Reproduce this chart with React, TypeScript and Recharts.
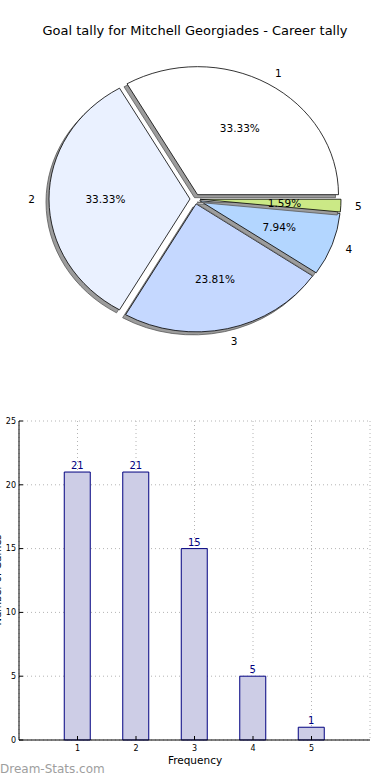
import { Bar, BarChart, CartesianGrid, Cell, LabelList, Pie, PieChart, XAxis, YAxis } from 'recharts';

const categories = ['1', '2', '3', '4', '5'];
const tallies = [21, 21, 15, 5, 1];
const sliceColors = ['#ffffff', '#eaf1ff', '#c5d8ff', '#b3d6ff', '#cbe986'];
const xTicks = [1, 2, 3, 4, 5];
const yTicks = [0, 5, 10, 15, 20, 25];

const pieData = categories.map((name, i) => ({ name, value: tallies[i] }));
const barData = categories.map((name, i) => ({ pos: i + 1, name, value: tallies[i] }));

const RAD = Math.PI / 180;
const ASPECT = 128 / 141; // pie is squashed vertically in the original
const EXPLODE = 5;
const FONT = '"DejaVu Sans", sans-serif';

function exploded(cx: number, cy: number, mid: number) {
  return [cx + EXPLODE * Math.cos(mid * RAD), cy - EXPLODE * Math.sin(mid * RAD)];
}

function wedgePath(ox: number, oy: number, rx: number, ry: number, a0: number, a1: number) {
  const x0 = ox + rx * Math.cos(a0 * RAD);
  const y0 = oy - ry * Math.sin(a0 * RAD);
  const x1 = ox + rx * Math.cos(a1 * RAD);
  const y1 = oy - ry * Math.sin(a1 * RAD);
  const large = Math.abs(a1 - a0) > 180 ? 1 : 0;
  return `M${ox},${oy} L${x0},${y0} A${rx},${ry} 0 ${large} 0 ${x1},${y1} Z`;
}

function Wedge(props: any) {
  const { cx, cy, startAngle, endAngle, midAngle, outerRadius, fill } = props;
  const [ox, oy] = exploded(cx, cy, midAngle);
  const d = wedgePath(ox, oy, outerRadius, outerRadius * ASPECT, startAngle, endAngle);
  return (
    <g>
      <path d={d} transform="translate(-3,3)" fill="#9c9c9c" stroke="#5a5a5a" strokeWidth={0.8} />
      <path d={d} fill={fill} stroke="#000" strokeWidth={0.8} />
    </g>
  );
}

function renderPieLabel(props: any) {
  const { cx, cy, midAngle, outerRadius, percent, name } = props;
  const [ox, oy] = exploded(cx, cy, midAngle);
  const c = Math.cos(midAngle * RAD);
  const s = Math.sin(midAngle * RAD);
  const rx = outerRadius;
  const ry = outerRadius * ASPECT;
  return (
    <g fontFamily={FONT} fontSize={10.5} fill="#000">
      <text
        x={ox + 1.1 * rx * c}
        y={oy - 1.1 * ry * s}
        textAnchor={c > 0 ? 'start' : 'end'}
        dominantBaseline="central"
      >
        {name}
      </text>
      <text x={ox + 0.6 * rx * c} y={oy - 0.6 * ry * s} textAnchor="middle" dominantBaseline="central">
        {(percent * 100).toFixed(2)}%
      </text>
    </g>
  );
}

export default function App() {
  return (
    <div
      style={{
        position: 'absolute',
        left: 0,
        top: 0,
        width: 390,
        height: 780,
        background: '#fff',
        fontFamily: FONT,
        overflow: 'hidden',
      }}
    >
      <div
        style={{
          position: 'absolute',
          top: 23,
          left: 0,
          width: 390,
          textAlign: 'center',
          fontSize: 13,
          color: '#000',
        }}
      >
        Goal tally for Mitchell Georgiades - Career tally
      </div>

      <div style={{ position: 'absolute', top: 0, left: 0 }}>
        <PieChart width={390} height={380} margin={{ top: 0, right: 0, bottom: 0, left: 0 }}>
          <Pie
            data={pieData}
            dataKey="value"
            nameKey="name"
            cx={195}
            cy={199}
            outerRadius={141}
            startAngle={0}
            endAngle={360}
            shape={Wedge}
            label={renderPieLabel}
            labelLine={false}
            isAnimationActive={false}
          >
            {pieData.map((d, i) => (
              <Cell key={d.name} fill={sliceColors[i]} />
            ))}
          </Pie>
        </PieChart>
      </div>

      <div style={{ position: 'absolute', top: 390, left: 0 }}>
        <BarChart
          width={390}
          height={390}
          data={barData}
          margin={{ top: 31, right: 20, left: 0, bottom: 20 }}
        >
          <CartesianGrid stroke="#b4b4b4" strokeDasharray="1 3" />
          <XAxis
            dataKey="pos"
            type="number"
            domain={[0, 6]}
            ticks={xTicks}
            height={20}
            stroke="#000"
            tick={{ fontSize: 8, fill: '#000', fontFamily: FONT }}
            tickSize={-4}
            tickMargin={9}
          />
          <XAxis
            xAxisId="top"
            orientation="top"
            dataKey="pos"
            type="number"
            domain={[0, 6]}
            height={0}
            tick={false}
            tickLine={false}
            stroke="#000"
          />
          <YAxis
            type="number"
            domain={[0, 25]}
            ticks={yTicks}
            width={19}
            stroke="#000"
            tick={{ fontSize: 8, fill: '#000', fontFamily: FONT }}
            tickSize={-4}
            tickMargin={7}
          />
          <YAxis
            yAxisId="right"
            orientation="right"
            type="number"
            domain={[0, 25]}
            width={0}
            tick={false}
            tickLine={false}
            stroke="#000"
          />
          <Bar
            dataKey="value"
            barSize={26}
            fill="#cdcde6"
            stroke="#000080"
            strokeWidth={1}
            isAnimationActive={false}
          >
            <LabelList dataKey="value" position="top" offset={3} fill="#000080" fontSize={10} fontFamily={FONT} />
          </Bar>
        </BarChart>
      </div>

      <div
        style={{
          position: 'absolute',
          top: 754,
          left: 0,
          width: 390,
          textAlign: 'center',
          fontSize: 10.5,
          color: '#000',
        }}
      >
        Frequency
      </div>

      {/* y label is clipped by the left edge in the original image */}
      <svg style={{ position: 'absolute', left: 0, top: 390 }} width={20} height={390}>
        <text
          x={1}
          y={190}
          transform="rotate(-90 1 190)"
          textAnchor="middle"
          fontSize={10}
          fontFamily={FONT}
          fill="#000"
        >
          Number of Games
        </text>
      </svg>

      <div
        style={{
          position: 'absolute',
          top: 762,
          left: 0,
          fontSize: 12,
          color: '#9e9e9e',
        }}
      >
        Dream-Stats.com
      </div>
    </div>
  );
}
